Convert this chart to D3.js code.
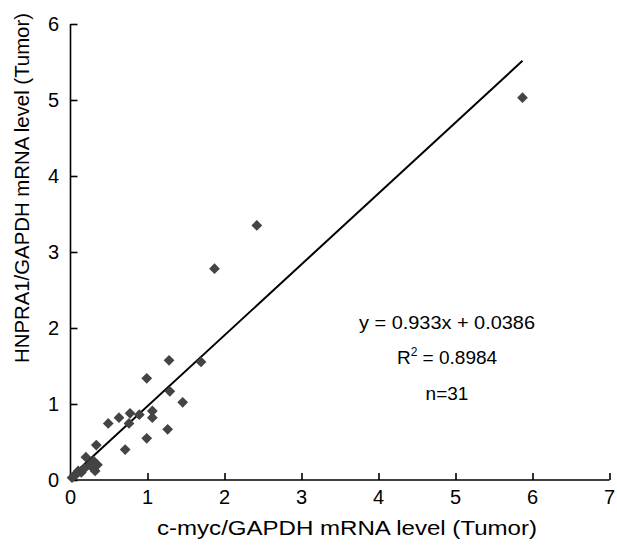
<!DOCTYPE html>
<html>
<head>
<meta charset="utf-8">
<script src="https://cdn.jsdelivr.net/npm/d3@7"></script>
<style>
  html, body { margin: 0; padding: 0; background: #fff; }
  svg { display: block; }
  text { font-family: "Liberation Sans", Arial, Helvetica, sans-serif; fill: #000; }
</style>
</head>
<body>
<svg id="chart" width="617" height="548"></svg>
<script>
// c-myc/GAPDH (x) vs HNPRA1/GAPDH (y), tumor samples
const cmyc = [5.87, 2.42, 1.87, 1.28, 1.695, 0.99, 1.29, 1.457, 1.063, 1.063,
              0.894, 0.773, 0.63, 0.49, 0.76, 1.262, 0.99, 0.71, 0.335, 0.20,
              0.02, 0.05, 0.08, 0.10, 0.14, 0.18, 0.25, 0.28, 0.30, 0.32, 0.35];
const hnpra1 = [5.03, 3.35, 2.78, 1.575, 1.553, 1.338, 1.167, 1.022, 0.908, 0.82,
                0.859, 0.877, 0.82, 0.745, 0.745, 0.667, 0.549, 0.40, 0.46, 0.30,
                0.03, 0.06, 0.08, 0.12, 0.10, 0.15, 0.20, 0.17, 0.25, 0.12, 0.20];
const xTicks = [0, 1, 2, 3, 4, 5, 6, 7];
const yTicks = [0, 1, 2, 3, 4, 5, 6];
const slope = 0.933, intercept = 0.0386;
const annotations = ["y = 0.933x + 0.0386", "R2 = 0.8984", "n=31"];
const xTitle = "c-myc/GAPDH mRNA level (Tumor)";
const yTitle = "HNPRA1/GAPDH mRNA level (Tumor)";

const svg = d3.select("#chart");
const x = d3.scaleLinear().domain([0, 7]).range([70.5, 609.5]);
const y = d3.scaleLinear().domain([0, 6]).range([480, 24]);

// axes (ticks pointing inward)
const xAxis = svg.append("g").attr("transform", `translate(0,${y(0)})`)
  .call(d3.axisTop(x).tickValues(xTicks).tickSize(7).tickFormat(d3.format("d")));
xAxis.selectAll("text").remove();
xAxis.selectAll("line, path").attr("stroke", "#000").attr("stroke-width", 1.6);
xAxis.select(".domain").attr("d", `M${x(0)},0H${x(7)}`);

const yAxis = svg.append("g").attr("transform", `translate(${x(0)},0)`)
  .call(d3.axisRight(y).tickValues(yTicks).tickSize(7));
yAxis.selectAll("text").remove();
yAxis.selectAll("line, path").attr("stroke", "#000").attr("stroke-width", 1.6);
yAxis.select(".domain").attr("d", `M0,${y(6)}V${y(0)}`);

// tick labels
svg.append("g").selectAll("text").data(xTicks).join("text")
  .attr("x", d => x(d)).attr("y", 504)
  .attr("text-anchor", "middle").attr("font-size", 20)
  .text(d => d);
svg.append("g").selectAll("text").data(yTicks).join("text")
  .attr("x", 59).attr("y", d => y(d) + 7)
  .attr("text-anchor", "end").attr("font-size", 20)
  .text(d => d);

// axis titles
svg.append("text").attr("x", 347).attr("y", 535)
  .attr("text-anchor", "middle").attr("font-size", 20)
  .attr("textLength", 380).attr("lengthAdjust", "spacingAndGlyphs")
  .text(xTitle);
svg.append("text").attr("transform", "translate(29,188) rotate(-90)")
  .attr("text-anchor", "middle").attr("font-size", 20)
  .attr("textLength", 350).attr("lengthAdjust", "spacingAndGlyphs")
  .text(yTitle);

// regression line
const xMax = d3.max(cmyc);
svg.append("line")
  .attr("x1", x(0)).attr("y1", y(intercept))
  .attr("x2", x(xMax)).attr("y2", y(slope * xMax + intercept))
  .attr("stroke", "#000").attr("stroke-width", 2);

// points (diamonds)
const sym = d3.symbol().type(d3.symbolSquare).size(58);
svg.append("g").selectAll("path").data(cmyc).join("path")
  .attr("d", sym)
  .attr("transform", (d, i) => `translate(${x(d)},${y(hnpra1[i])}) rotate(45)`)
  .attr("fill", "#444");

// annotation
const ann = svg.append("g").attr("text-anchor", "middle").attr("font-size", 19);
ann.append("text").attr("x", 447).attr("y", 329)
  .attr("textLength", 176).attr("lengthAdjust", "spacingAndGlyphs")
  .text(annotations[0]);
const r2 = ann.append("text").attr("x", 447).attr("y", 364);
r2.append("tspan").text("R");
r2.append("tspan").attr("dy", -8).attr("font-size", 12).text("2");
r2.append("tspan").attr("dy", 8).text(" = 0.8984");
ann.append("text").attr("x", 447).attr("y", 400).text(annotations[2]);
</script>
</body>
</html>
